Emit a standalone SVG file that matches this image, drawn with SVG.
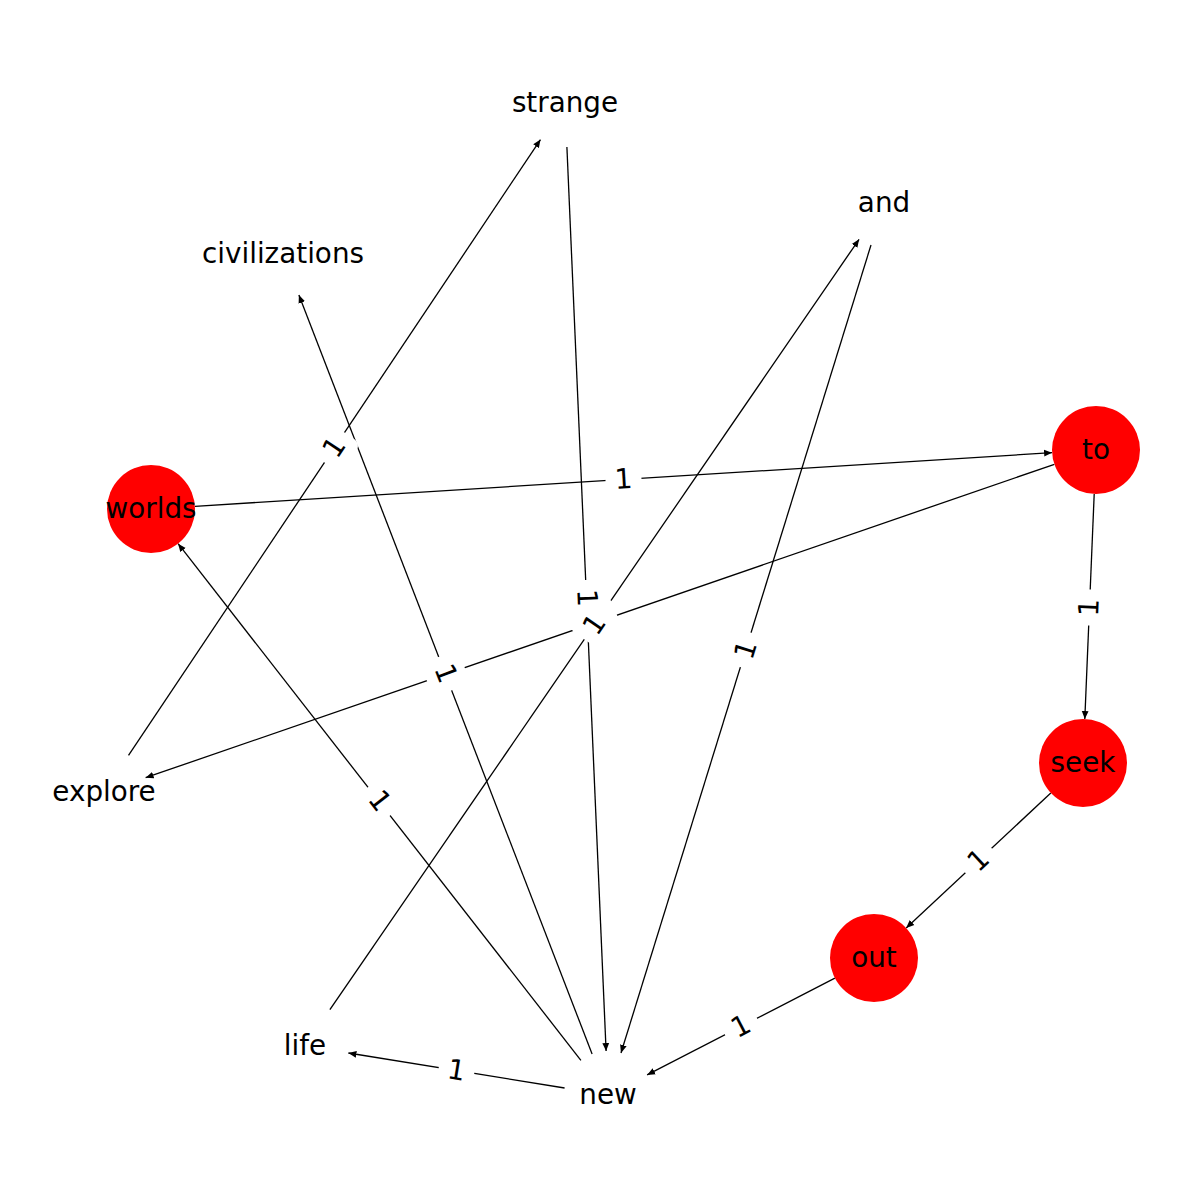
<svg xmlns="http://www.w3.org/2000/svg" width="1200" height="1200" viewBox="0 0 1200 1200">
<style>
.e{stroke:#000;stroke-width:1.3;fill:none;marker-end:url(#ah)}
.lb{fill:#fff;stroke:none}
.lt{font-family:"DejaVu Sans","Liberation Sans",sans-serif;font-size:27.8px;fill:#000;text-anchor:middle}
.nc{fill:#ff0000;stroke:none}
.nt{font-family:"DejaVu Sans","Liberation Sans",sans-serif;font-size:27.8px;fill:#000;text-anchor:middle}
</style>
<defs>
<marker id="ah" viewBox="0 0 8 8" markerWidth="8" markerHeight="8" refX="8" refY="4" orient="auto" markerUnits="userSpaceOnUse">
<path d="M0,0.6 L8,4 L0,7.4 z" fill="#000"/>
</marker>
</defs>
<rect width="1200" height="1200" fill="#fff"/>
<g id="connectors">
<line class="e" x1="194.9" y1="506.3" x2="1052.1" y2="452.7"/>
<line class="e" x1="1094.2" y1="494.0" x2="1084.8" y2="719.0"/>
<line class="e" x1="1050.8" y1="793.0" x2="906.2" y2="928.0"/>
<line class="e" x1="834.9" y1="978.1" x2="647.1" y2="1074.9"/>
<line class="e" x1="564.6" y1="1088.0" x2="348.4" y2="1053.0"/>
<line class="e" x1="580.9" y1="1060.3" x2="178.1" y2="543.7"/>
<line class="e" x1="592.1" y1="1054.0" x2="298.9" y2="295.0"/>
<line class="e" x1="566.9" y1="147.0" x2="606.1" y2="1051.0"/>
<line class="e" x1="871.0" y1="245.0" x2="621.0" y2="1053.0"/>
<line class="e" x1="329.9" y1="1009.7" x2="859.1" y2="239.3"/>
<line class="e" x1="1054.4" y1="464.3" x2="145.6" y2="777.7"/>
<line class="e" x1="128.5" y1="755.4" x2="540.5" y2="139.6"/>
</g>
<g id="edge-labels">
<g transform="translate(623.5,479.5) rotate(-3.57)"><rect class="lb" x="-18" y="-20" width="36" height="40" rx="8"/><text class="lt" y="9">1</text></g>
<g transform="translate(1089.5,607.5) rotate(-87.62)"><rect class="lb" x="-18" y="-20" width="36" height="40" rx="8"/><text class="lt" y="9">1</text></g>
<g transform="translate(978.5,860.5) rotate(-43.01)"><rect class="lb" x="-18" y="-20" width="36" height="40" rx="8"/><text class="lt" y="9">1</text></g>
<g transform="translate(741,1026.5) rotate(-27.25)"><rect class="lb" x="-18" y="-20" width="36" height="40" rx="8"/><text class="lt" y="9">1</text></g>
<g transform="translate(456.5,1070.5) rotate(9.19)"><rect class="lb" x="-18" y="-20" width="36" height="40" rx="8"/><text class="lt" y="9">1</text></g>
<g transform="translate(379.5,801) rotate(52.05)"><rect class="lb" x="-18" y="-20" width="36" height="40" rx="8"/><text class="lt" y="9">1</text></g>
<g transform="translate(445.5,673.5) rotate(68.87)"><rect class="lb" x="-18" y="-20" width="36" height="40" rx="8"/><text class="lt" y="9">1</text></g>
<g transform="translate(586.5,598) rotate(87.52)"><rect class="lb" x="-18" y="-20" width="36" height="40" rx="8"/><text class="lt" y="9">1</text></g>
<g transform="translate(746,650) rotate(-72.81)"><rect class="lb" x="-18" y="-20" width="36" height="40" rx="8"/><text class="lt" y="9">1</text></g>
<g transform="translate(600,621) rotate(-19.02)"><rect class="lb" x="-18" y="-20" width="36" height="40" rx="8"/><text class="lt" y="9">1</text></g>
<g transform="translate(594.5,624.5) rotate(-55.52)"><rect class="lb" x="-18" y="-20" width="36" height="40" rx="8"/><text class="lt" y="9">1</text></g>
<g transform="translate(334.5,447.5) rotate(-56.21)"><rect class="lb" x="-18" y="-20" width="36" height="40" rx="8"/><text class="lt" y="9">1</text></g>
</g>
<g id="node-strange"><text class="nt" x="565" y="112">strange</text></g>
<g id="node-and"><text class="nt" x="884" y="212">and</text></g>
<g id="node-civilizations"><text class="nt" x="283" y="263">civilizations</text></g>
<g id="node-to"><circle class="nc" cx="1096" cy="450" r="44"/><text class="nt" x="1096" y="459">to</text></g>
<g id="node-worlds"><circle class="nc" cx="151" cy="509" r="44"/><text class="nt" x="151" y="518">worlds</text></g>
<g id="node-seek"><circle class="nc" cx="1083" cy="763" r="44"/><text class="nt" x="1083" y="772">seek</text></g>
<g id="node-explore"><text class="nt" x="104" y="801">explore</text></g>
<g id="node-out"><circle class="nc" cx="874" cy="958" r="44"/><text class="nt" x="874" y="967">out</text></g>
<g id="node-life"><text class="nt" x="305" y="1055">life</text></g>
<g id="node-new"><text class="nt" x="608" y="1104">new</text></g>
</svg>
